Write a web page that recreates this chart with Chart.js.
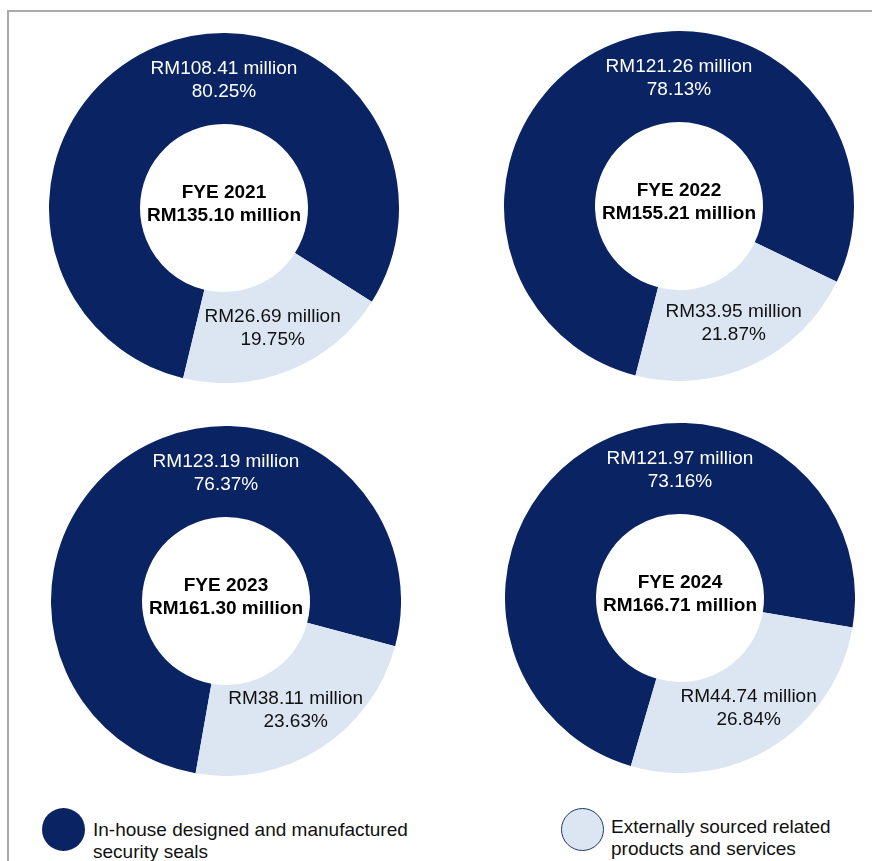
<!DOCTYPE html>
<html>
<head>
<meta charset="utf-8">
<script src="https://cdn.jsdelivr.net/npm/chart.js@4"></script>
<style>
    html, body { margin: 0; padding: 0; background: #fff; overflow: hidden; }
    #page { position: relative; width: 872px; height: 861px; font-family: "Liberation Sans", Arial, sans-serif; }
    #frame { position: absolute; left: 7px; top: 10px; right: 0; bottom: 0; border-top: 2px solid #aaaaaa; border-left: 2px solid #aaaaaa; }
    canvas.donut { position: absolute; }
    .dot { position: absolute; width: 43px; height: 43px; border-radius: 50%; box-sizing: border-box; }
    .legend-text { position: absolute; font-size: 19px; line-height: 22px; color: #111; }
</style>
</head>
<body>
<div id="page">
    <div id="frame"></div>
    <canvas class="donut" id="c0" width="350" height="350" style="left:49px;top:33px"></canvas>
    <canvas class="donut" id="c1" width="350" height="350" style="left:504px;top:31px"></canvas>
    <canvas class="donut" id="c2" width="350" height="350" style="left:51px;top:426px"></canvas>
    <canvas class="donut" id="c3" width="350" height="350" style="left:505px;top:423px"></canvas>

    <div class="dot" id="dot0" style="left:42px;top:808px"></div>
    <div class="legend-text" id="leg0" style="left:93px;top:819px;width:360px"></div>
    <div class="dot" id="dot1" style="left:561px;top:808px"></div>
    <div class="legend-text" id="leg1" style="left:611px;top:816px;width:250px"></div>
</div>
<script>
// chart values
const years = ['FYE 2021', 'FYE 2022', 'FYE 2023', 'FYE 2024'];
const totals = ['135.10', '155.21', '161.30', '166.71'];
const inHouse = [108.41, 121.26, 123.19, 121.97];
const external = [26.69, 33.95, 38.11, 44.74];
const inHousePct = ['80.25', '78.13', '76.37', '73.16'];
const externalPct = ['19.75', '21.87', '23.63', '26.84'];
const categories = ['In-house designed and manufactured security seals', 'Externally sourced related products and services'];

// styling
const colors = ['#0a2463', '#dce6f2'];
const rotations = [193.5, 194.4, 190, 196.3];
const labelFont = '19px "Liberation Sans", Arial, sans-serif';
const boldFont = 'bold 19px "Liberation Sans", Arial, sans-serif';

// legend
document.getElementById('dot0').style.background = colors[0];
document.getElementById('dot1').style.background = colors[1];
document.getElementById('dot1').style.border = '1.5px solid #1f3864';
document.getElementById('leg0').textContent = categories[0];
document.getElementById('leg1').textContent = categories[1];

function drawLines(ctx, lines, x, y, font, color) {
    ctx.font = font;
    ctx.fillStyle = color;
    ctx.textAlign = 'center';
    ctx.textBaseline = 'middle';
    ctx.fillText(lines[0], x, y - 11.5);
    ctx.fillText(lines[1], x, y + 11.5);
}

const labelPlugin = {
    id: 'donutLabels',
    afterDatasetsDraw(chart) {
        let i = chart.options.plugins.donutLabels.index;
        let ctx = chart.ctx;
        let meta = chart.getDatasetMeta(0);
        let dark = meta.data[0];
        let light = meta.data[1];
        let cx = dark.x, cy = dark.y;
        let midR = (dark.innerRadius + dark.outerRadius) / 2;

        ctx.save();
        // centre text
        drawLines(ctx, [years[i], 'RM' + totals[i] + ' million'], cx, cy - 4, boldFont, '#000');
        // in-house slice label, placed at the top of the ring
        drawLines(ctx, ['RM' + inHouse[i].toFixed(2) + ' million', inHousePct[i] + '%'], cx, cy - midR + 2, labelFont, '#fff');
        // external slice label, at the slice centre
        let p = light.tooltipPosition();
        drawLines(ctx, ['RM' + external[i].toFixed(2) + ' million', externalPct[i] + '%'], p.x, p.y, labelFont, '#111');
        ctx.restore();
    }
};

years.forEach((year, i) => {
    let ctx = document.getElementById('c' + i).getContext('2d');
    new Chart(ctx, {
        type: 'doughnut',
        data: {
            labels: categories,
            datasets: [{
                data: [inHouse[i], external[i]],
                backgroundColor: colors,
                borderWidth: 0
            }]
        },
        options: {
            responsive: false,
            animation: false,
            rotation: rotations[i],
            cutout: '48%',
            layout: { padding: 0 },
            plugins: {
                legend: { display: false },
                tooltip: { enabled: false },
                donutLabels: { index: i }
            }
        },
        plugins: [labelPlugin]
    });
});
</script>
</body>
</html>
